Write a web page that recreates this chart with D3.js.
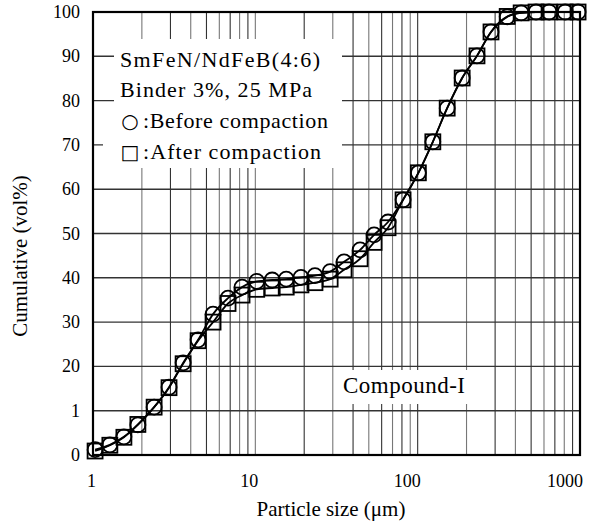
<!DOCTYPE html>
<html><head><meta charset="utf-8">
<script src="https://cdn.jsdelivr.net/npm/d3@7"></script>
<style>
html,body{margin:0;padding:0;background:#fff;}
svg{display:block;}
text{font-family:"Liberation Serif","Times New Roman",serif;fill:#000;}
</style></head>
<body>
<svg id="chart" width="589" height="524"></svg>
<script>
// ---- data ----
const sizes = [1.03,1.27,1.55,1.89,2.38,2.94,3.59,4.44,5.49,6.79,8.28,10.2,12.7,15.5,19.1,23.3,28.9,35.2,44.2,53.9,65.7,81.3,101,124,152,188,232,283,356,434,536,645,810,973];
const beforeVals = [1.2,2.3,4.1,6.8,10.8,15.3,20.8,26.0,31.8,35.4,37.9,39.2,39.5,39.7,40.1,40.5,41.4,43.6,46.3,49.7,52.6,57.6,63.7,70.7,78.3,85.1,90.1,95.5,98.9,99.8,100,100,100,100];
const afterVals  = [0.9,2.2,4.0,6.9,10.8,15.2,20.6,25.8,30.0,34.2,36.1,37.4,37.7,37.9,38.4,38.9,39.7,41.8,44.3,48.0,51.3,57.6,63.7,70.7,78.3,85.1,90.1,95.5,99.0,99.8,100,100,100,100];
const yTickValues = [0,10,20,30,40,50,60,70,80,90,100];
const yTickLabels = ["0","1","20","30","40","50","60","70","80","90","100"];
const xTickValues = [1,10,100,1000];
const xTickLabels = ["1","10","100","1000"];
const legendTitle = ["SmFeN/NdFeB(4:6)","Binder 3%, 25 MPa"];
const legendSymbols = ["\u25CB","\u25A1"];
const legendLabels = [":Before compaction",":After compaction"];
const xTitle = "Particle size (\u03BCm)";
const yTitle = "Cumulative (vol%)";
const noteText = "Compound-I";

// ---- layout ----
const L = 93, R = 580, T = 12, B = 455;
const svg = d3.select("#chart");
const x = d3.scaleLog().domain([1,1000]).range([L,R]);
const y = d3.scaleLinear().domain([0,100]).range([B,T]);

// gridlines
const vg = x.ticks().filter(v => v > 1 && v < 1000);
svg.append("g").selectAll("line").data(vg).join("line")
  .attr("x1", d => x(d)).attr("x2", d => x(d)).attr("y1", T).attr("y2", B)
  .attr("stroke", (d,i) => i % 2 ? "#333" : "#777").attr("stroke-width", 1.1);
svg.append("g").selectAll("line").data(yTickValues.filter(v => v > 0 && v < 100)).join("line")
  .attr("x1", L).attr("x2", R).attr("y1", d => y(d)).attr("y2", d => y(d))
  .attr("stroke", "#333").attr("stroke-width", 1.4);

// white boxes behind annotations
svg.append("rect").attr("x", 114).attr("y", 39).attr("width", 228).attr("height", 96).attr("fill", "#fff");
svg.append("rect").attr("x", 103).attr("y", 135).attr("width", 239).attr("height", 33).attr("fill", "#fff");
svg.append("rect").attr("x", 339).attr("y", 370).attr("width", 130).attr("height", 34).attr("fill", "#fff");

// frame
svg.append("rect").attr("x", L).attr("y", T).attr("width", R - L).attr("height", B - T)
  .attr("fill", "none").attr("stroke", "#000").attr("stroke-width", 2.2);

// curves
const line = d3.line().x(d => x(d[0])).y(d => y(d[1])).curve(d3.curveMonotoneX);
[beforeVals, afterVals].forEach(vals => {
  svg.append("path").datum(sizes.map((s,i) => [s, vals[i]]))
    .attr("d", line).attr("fill", "none").attr("stroke", "#000").attr("stroke-width", 1.8);
});

// markers
svg.append("g").selectAll("rect").data(sizes.map((s,i) => [s, afterVals[i]])).join("rect")
  .attr("x", d => x(d[0]) - 7.5).attr("y", d => y(d[1]) - 7.5).attr("width", 15).attr("height", 15)
  .attr("fill", "none").attr("stroke", "#000").attr("stroke-width", 1.8);
svg.append("g").selectAll("circle").data(sizes.map((s,i) => [s, beforeVals[i]])).join("circle")
  .attr("cx", d => x(d[0])).attr("cy", d => y(d[1])).attr("r", 7.5)
  .attr("fill", "none").attr("stroke", "#000").attr("stroke-width", 1.8);

// axes labels
svg.append("g").selectAll("text").data(yTickValues).join("text")
  .attr("x", 80).attr("y", d => y(d) + 6).attr("text-anchor", "end").attr("font-size", 18)
  .text((d,i) => yTickLabels[i]);
svg.append("g").selectAll("text").data(xTickValues).join("text")
  .attr("x", d => x(d) + 3).attr("y", 487).attr("text-anchor", "end").attr("font-size", 18)
  .text((d,i) => xTickLabels[i]);
svg.append("text").attr("x", 331).attr("y", 516).attr("text-anchor", "middle").attr("font-size", 21).text(xTitle);
svg.append("text").attr("transform", "translate(27,256) rotate(-90)").attr("text-anchor", "middle").attr("font-size", 21).text(yTitle);

// legend text
const titleLen = [200, 192];
svg.append("g").selectAll("text").data(legendTitle).join("text")
  .attr("x", 120).attr("y", (d,i) => 67 + 30 * i).attr("font-size", 22)
  .attr("textLength", (d,i) => titleLen[i]).attr("lengthAdjust", "spacing").text(d => d);
svg.append("g").selectAll("text").data(legendSymbols).join("text")
  .attr("x", 130).attr("y", (d,i) => 128 + 31 * i).attr("text-anchor", "middle")
  .attr("font-size", 20).style("font-family", "'DejaVu Sans', sans-serif").text(d => d);
const labLen = [185, 178];
svg.append("g").selectAll("text").data(legendLabels).join("text")
  .attr("x", 143).attr("y", (d,i) => 128 + 31 * i).attr("font-size", 22)
  .attr("textLength", (d,i) => labLen[i]).attr("lengthAdjust", "spacing").text(d => d);
svg.append("text").attr("x", 343).attr("y", 393).attr("font-size", 23)
  .attr("textLength", 122).attr("lengthAdjust", "spacing").text(noteText);
</script>
</body></html>
